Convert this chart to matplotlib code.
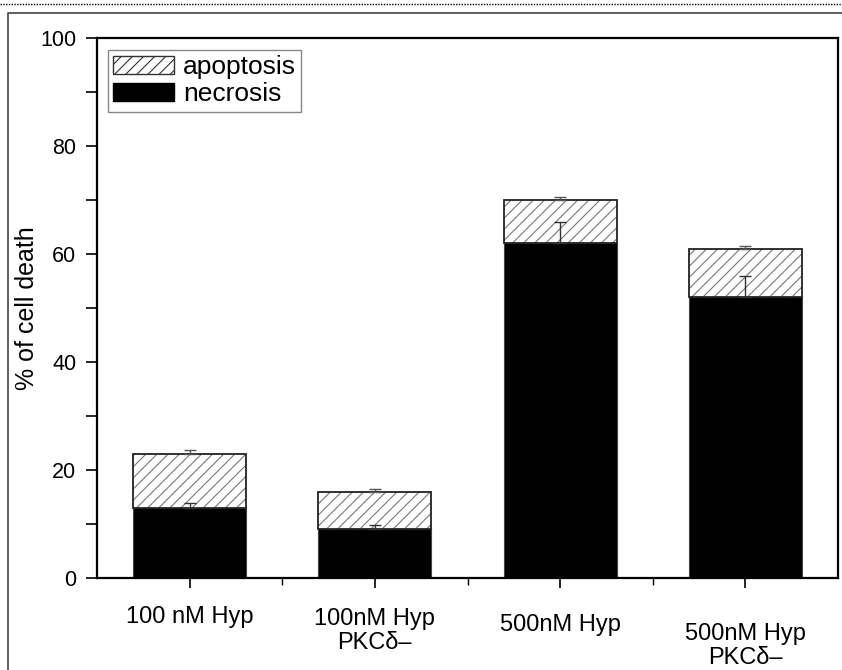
import matplotlib
matplotlib.use("Agg")
import matplotlib.pyplot as plt
from matplotlib.patches import Patch
from matplotlib.lines import Line2D
from matplotlib.transforms import ScaledTranslation
import numpy as np

plt.rcParams['font.family'] = ['Liberation Sans', 'DejaVu Sans']
plt.rcParams['hatch.linewidth'] = 0.8

categories = ["100 nM Hyp", "100nM Hyp\nPKC\u03b4\u2013", "500nM Hyp", "500nM Hyp\nPKC\u03b4\u2013"]
necrosis = [13.0, 9.0, 62.0, 52.0]
apoptosis = [10.0, 7.0, 8.0, 9.0]
necrosis_err = [0.8, 0.75, 4.0, 4.0]
apoptosis_err = [0.7, 0.55, 0.6, 0.4]
label_offsets_px = [0, 2, 8, 17]

W, H = 842, 670
fig = plt.figure(figsize=(W / 100, H / 100), dpi=100)
ax = fig.add_axes([97 / W, 1 - 578 / H, (838 - 97) / W, (578 - 38) / H])

x = np.arange(1, len(categories) + 1)
width = 0.61
totals = np.array(necrosis) + np.array(apoptosis)

# necrosis bars
ax.bar(x, necrosis, width, color='black', edgecolor='#444444', linewidth=0.8, zorder=2)
# apoptosis hatched bars (hatch layer)
ax.bar(x, apoptosis, width, bottom=necrosis, color='white', edgecolor='#777777',
       hatch='///', linewidth=0, zorder=2)
# apoptosis outline
ax.bar(x, apoptosis, width, bottom=necrosis, color='none', edgecolor='#222222',
       linewidth=1.3, zorder=3)

# error bars (upper only)
ax.errorbar(x, necrosis, yerr=[np.zeros(4), necrosis_err], fmt='none', ecolor='#333333',
            elinewidth=1.0, capsize=4, capthick=1.0, zorder=4)
ax.errorbar(x, totals, yerr=[np.zeros(4), apoptosis_err], fmt='none', ecolor='#555555',
            elinewidth=1.0, capsize=4, capthick=1.0, zorder=4)

ax.set_xlim(0.5, 4.5)
ax.set_ylim(0, 100)
ax.set_yticks([0, 20, 40, 60, 80, 100])
ax.set_yticks([10, 30, 50, 70, 90], minor=True)
ax.set_xticks(x)
ax.set_xticks([1.5, 2.5, 3.5], minor=True)
ax.set_xticklabels(categories, fontsize=17, linespacing=1.15, va='top')
ax.tick_params(axis='y', which='both', direction='out', length=8, width=1.2,
               labelsize=15.5, pad=7)
ax.tick_params(axis='x', which='major', direction='out', length=7, width=1.2, pad=13)
ax.tick_params(axis='x', which='minor', direction='out', length=5, width=1.0)
for lbl, dy in zip(ax.get_xticklabels(), label_offsets_px):
    lbl.set_transform(lbl.get_transform() + ScaledTranslation(0, -dy / 100, fig.dpi_scale_trans))

for s in ax.spines.values():
    s.set_linewidth(1.6)

ax.set_ylabel("% of cell death", fontsize=18, labelpad=1)

handles = [Patch(facecolor='white', edgecolor='#333333', hatch='///', linewidth=1.0),
           Patch(facecolor='black', edgecolor='black')]
leg = ax.legend(handles, ['apoptosis', 'necrosis'], loc='upper left',
                bbox_to_anchor=(0.0148, 0.978), borderaxespad=0, fontsize=19,
                handlelength=2.3, handleheight=0.65, handletextpad=0.35,
                labelspacing=0.12, borderpad=0.2, fancybox=False,
                framealpha=1, edgecolor='#888888')
leg.get_frame().set_linewidth(1.0)

# figure frame lines
fig.add_artist(Line2D([0, 1], [1 - 4 / H, 1 - 4 / H], color='black', linewidth=1.0,
                      linestyle=(0, (1, 1)), transform=fig.transFigure))
fig.add_artist(Line2D([8 / W, 8 / W, 1], [0, 1 - 13 / H, 1 - 13 / H], color='#444444',
                      linewidth=1.2, transform=fig.transFigure))

fig.savefig("out.png", dpi=100)
